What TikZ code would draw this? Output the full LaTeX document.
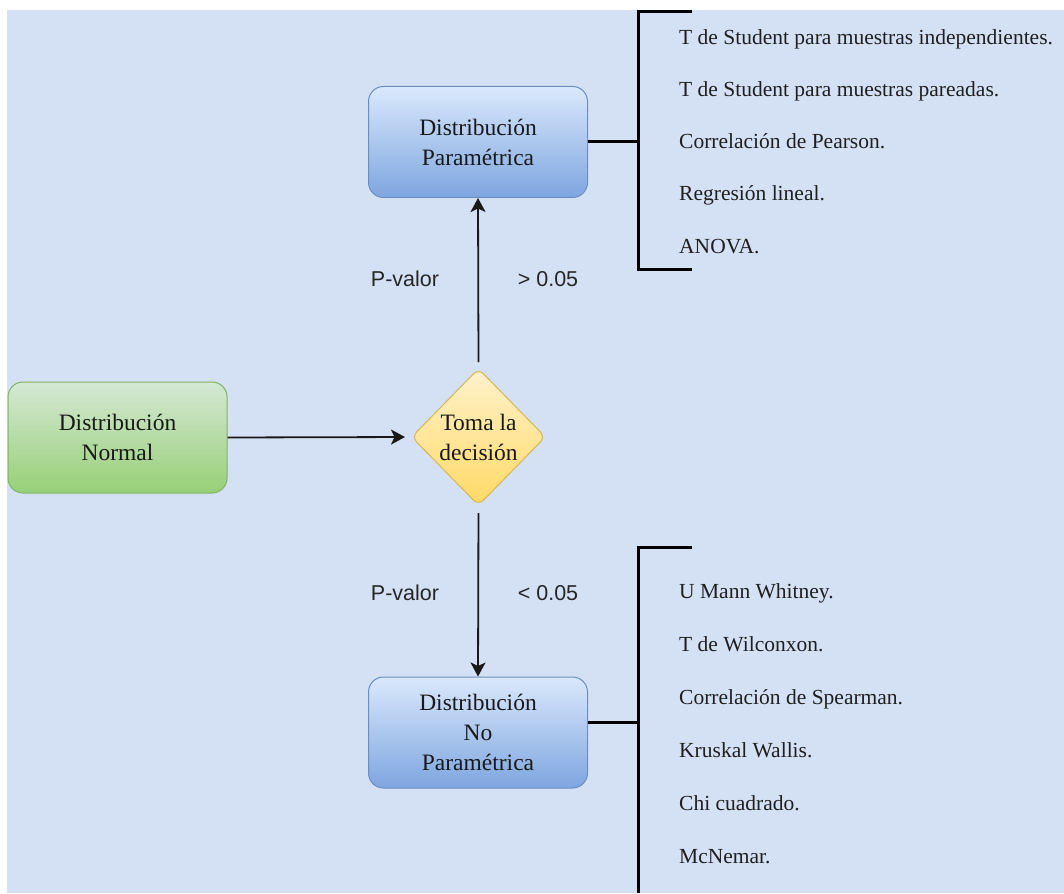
\documentclass[tikz,border=0pt]{standalone}
\usepackage{fontspec}
\setmainfont{Liberation Serif}
\newfontfamily\labelfont{Liberation Sans}
\usetikzlibrary{shapes.geometric,arrows.meta}

\definecolor{canvasbg}{HTML}{D4E1F5}
\definecolor{bluetop}{HTML}{DAE8FC}
\definecolor{bluebot}{HTML}{7EA6E0}
\definecolor{blueline}{HTML}{6C8EBF}
\definecolor{greentop}{HTML}{D5E8D4}
\definecolor{greenbot}{HTML}{97D077}
\definecolor{greenline}{HTML}{82B366}
\definecolor{yellowtop}{HTML}{FFF2CC}
\definecolor{yellowbot}{HTML}{FFD966}
\definecolor{yellowline}{HTML}{D6B656}

\tikzset{
  boxtext/.style={font=\fontsize{23.5}{30}\selectfont, align=center, text=black!90},
  procbox/.style={boxtext, rectangle, rounded corners=15pt, line width=1pt,
    minimum width=219pt, minimum height=111pt, inner sep=0pt},
  bluebox/.style={procbox, draw=blueline, top color=bluetop, bottom color=bluebot},
  greenbox/.style={procbox, draw=greenline, top color=greentop, bottom color=greenbot},
  decbox/.style={boxtext, diamond, rounded corners=7pt, line width=1pt,
    draw=yellowline, top color=yellowtop, bottom color=yellowbot,
    minimum width=134pt, minimum height=137pt, inner sep=0pt},
  flow/.style={line width=1.8pt, draw=black!90,
    -{Stealth[length=14pt,width=15pt,inset=3.5pt]}},
  brk/.style={line width=3pt, draw=black, line join=miter},
  plabel/.style={font=\labelfont\fontsize{21.5}{26}\selectfont, text=black!85,
    anchor=base, inner sep=0pt},
  item/.style={font=\fontsize{21.5}{26}\selectfont, text=black!88,
    anchor=base west, inner sep=0pt},
}

\begin{document}
\begin{tikzpicture}[x=1pt, y=-1pt]
  \useasboundingbox (0,0) rectangle (1064,893);
  \fill[white] (0,0) rectangle (1064,893);
  \fill[canvasbg] (7,10) rectangle (1064,893);

  % main flow
  \node[greenbox] (normal) at (117.5,437.5) {Distribución\\Normal};
  \node[decbox] (dec) at (478.5,437) {Toma la\\decisión};
  \node[bluebox] (par) at (478,142) {Distribución\\Paramétrica};
  \node[bluebox] (nopar) at (478,732.5) {Distribución\\No\\Paramétrica};

  \draw[flow, shorten >=6pt] (normal.east) -- (dec.west);
  \draw[flow, shorten <=6pt] (dec.north) -- (par.south);
  \draw[flow, shorten <=7pt] (dec.south) -- (nopar.north);

  % p-value conditions
  \node[plabel] (pv1) at (405,286.5) {P-valor};
  \node[plabel] (gt) at (548,286.5) {> 0.05};
  \node[plabel] (pv2) at (405,600.5) {P-valor};
  \node[plabel] (lt) at (548,600.5) {< 0.05};

  % bracket of parametric tests
  \coordinate (pj) at (638,142);
  \coordinate (pt) at (692,12);
  \coordinate (pb) at (692,269);
  \draw[brk] (par.east) -- (pj);
  \draw[brk] (pt) -- (pt -| pj) -- (pb -| pj) -- (pb);

  \node[item] (p1) at (679,45) {T de Student para muestras independientes.};
  \node[item] (p2) at (679,97) {T de Student para muestras pareadas.};
  \node[item] (p3) at (679,149) {Correlación de Pearson.};
  \node[item] (p4) at (679,201) {Regresión lineal.};
  \node[item] (p5) at (679,253) {ANOVA.};

  % bracket of non-parametric tests
  \coordinate (nj) at (638,722);
  \coordinate (nt) at (692,547);
  \coordinate (nb) at (638,893);
  \draw[brk] ([yshift=10.5pt]nopar.east) -- (nj);
  \draw[brk] (nt) -- (nt -| nj) -- (nb);

  \node[item] (n1) at (679,598) {U Mann Whitney.};
  \node[item] (n2) at (679,651) {T de Wilconxon.};
  \node[item] (n3) at (679,704) {Correlación de Spearman.};
  \node[item] (n4) at (679,757) {Kruskal Wallis.};
  \node[item] (n5) at (679,810) {Chi cuadrado.};
  \node[item] (n6) at (679,863) {McNemar.};
\end{tikzpicture}
\end{document}
